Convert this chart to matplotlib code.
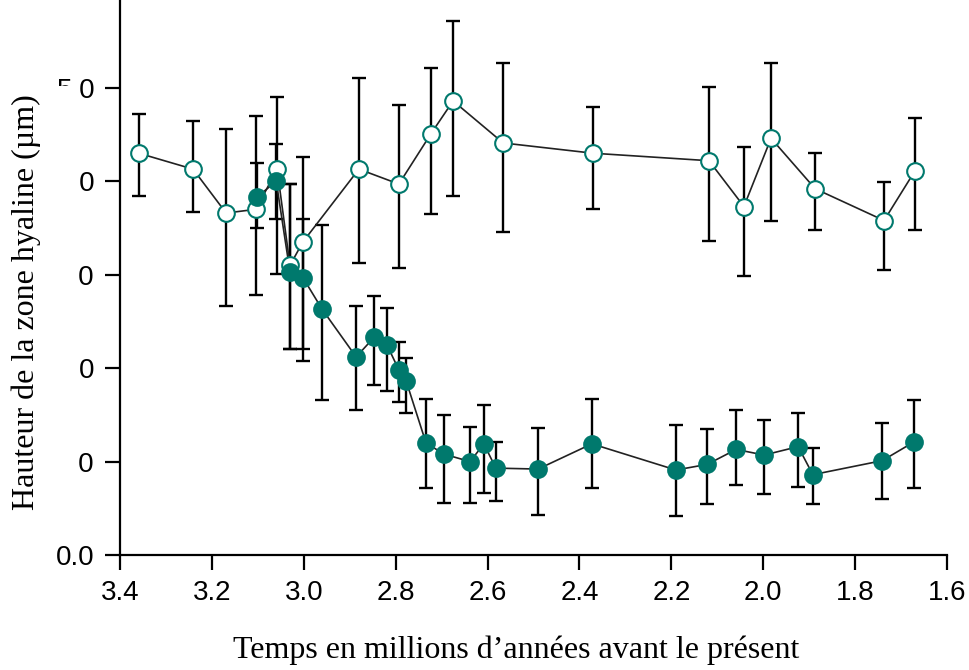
import matplotlib.pyplot as plt
from matplotlib.patches import Rectangle
import numpy as np

# open circles
open_x = [3.359, 3.241, 3.169, 3.104, 3.058, 3.030, 3.002, 2.880, 2.793, 2.723,
          2.675, 2.566, 2.370, 2.118, 2.042, 1.983, 1.887, 1.737, 1.670]
open_y = [4.30, 4.13, 3.66, 3.70, 4.13, 3.10, 3.35, 4.13, 3.97, 4.51,
          4.86, 4.41, 4.30, 4.22, 3.73, 4.46, 3.92, 3.58, 4.11]
open_lo = [3.84, 3.67, 2.66, 2.78, 3.01, 2.21, 2.08, 3.13, 3.07, 3.65,
           3.84, 3.46, 3.70, 3.36, 2.99, 3.58, 3.48, 3.05, 3.48]
open_hi = [4.72, 4.65, 4.56, 4.70, 4.90, 3.97, 4.26, 5.10, 4.82, 5.21,
           5.72, 5.27, 4.80, 5.01, 4.37, 5.27, 4.30, 3.99, 4.68]

# filled circles
fill_x = [3.102, 3.060, 3.030, 3.002, 2.960, 2.886, 2.847, 2.819, 2.793, 2.777,
          2.734, 2.695, 2.638, 2.608, 2.582, 2.490, 2.373, 2.190, 2.122, 2.059,
          1.998, 1.924, 1.892, 1.741, 1.672]
fill_y = [3.83, 4.00, 3.03, 2.97, 2.63, 2.12, 2.33, 2.25, 1.98, 1.86,
          1.20, 1.08, 1.00, 1.19, 0.93, 0.92, 1.19, 0.91, 0.97, 1.13,
          1.07, 1.16, 0.86, 1.01, 1.21]
fill_lo = [3.50, 3.60, 2.21, 2.20, 1.66, 1.55, 1.82, 1.76, 1.64, 1.52,
           0.72, 0.56, 0.56, 0.66, 0.58, 0.43, 0.72, 0.42, 0.55, 0.75,
           0.65, 0.73, 0.55, 0.60, 0.72]
fill_hi = [4.20, 4.40, 3.97, 3.60, 3.53, 2.66, 2.77, 2.64, 2.28, 2.11,
           1.67, 1.50, 1.37, 1.61, 1.21, 1.36, 1.67, 1.39, 1.35, 1.55,
           1.45, 1.52, 1.15, 1.41, 1.66]

x_ticks = [3.4, 3.2, 3.0, 2.8, 2.6, 2.4, 2.2, 2.0, 1.8, 1.6]
y_ticks = [0, 1, 2, 3, 4, 5]
y_ticklabels = ["0.0", "1.0", "2.0", "3.0", "4.0", "5.0"]

teal = "#00796d"

fig = plt.figure(figsize=(9.7, 6.7), dpi=100)
ax = fig.add_axes([0.1237, 0.1716, 0.8526, 0.8284])

for xs, ys, lo, hi, face in [(open_x, open_y, open_lo, open_hi, "white"),
                             (fill_x, fill_y, fill_lo, fill_hi, teal)]:
    ys = np.array(ys)
    err = [ys - np.array(lo), np.array(hi) - ys]
    ax.errorbar(xs, ys, yerr=err, fmt="none", ecolor="black", elinewidth=1.7,
                capsize=5, capthick=1.7, zorder=2)
    ax.plot(xs, ys, color="#222222", lw=1.2, zorder=3)
    ax.plot(xs, ys, "o", ls="none", ms=12, mfc=face, mec=teal, mew=1.5, zorder=4)

ax.set_xlim(3.4, 1.6)
ax.set_ylim(0, 5.94)
ax.set_xticks(x_ticks)
ax.set_xticklabels([f"{t:.1f}" for t in x_ticks])
ax.set_yticks(y_ticks)
ax.set_yticklabels(y_ticklabels)
ax.spines["top"].set_visible(False)
ax.spines["right"].set_visible(False)
for s in ["left", "bottom"]:
    ax.spines[s].set_linewidth(1.6)
ax.tick_params(direction="out", length=11, width=1.6, labelsize=20, pad=7)
for lab in ax.get_xticklabels() + ax.get_yticklabels():
    lab.set_fontfamily("Liberation Sans")

# white box hiding the start of the y tick labels, like the original
fig.add_artist(Rectangle((0, 1 - 525 / 670), 79 / 970, (525 - 86) / 670,
                         transform=fig.transFigure, facecolor="white",
                         edgecolor="none", zorder=5))
fig.text(26 / 970, 1 - 302 / 670, "Hauteur de la zone hyaline (µm)", rotation=90,
         ha="center", va="center", fontsize=23, family="Liberation Serif", zorder=6)
fig.text(516 / 970, 1 - 650 / 670, "Temps en millions d\u2019années avant le présent",
         ha="center", va="center", fontsize=23, family="Liberation Serif")

fig.savefig("out.png", dpi=100)
